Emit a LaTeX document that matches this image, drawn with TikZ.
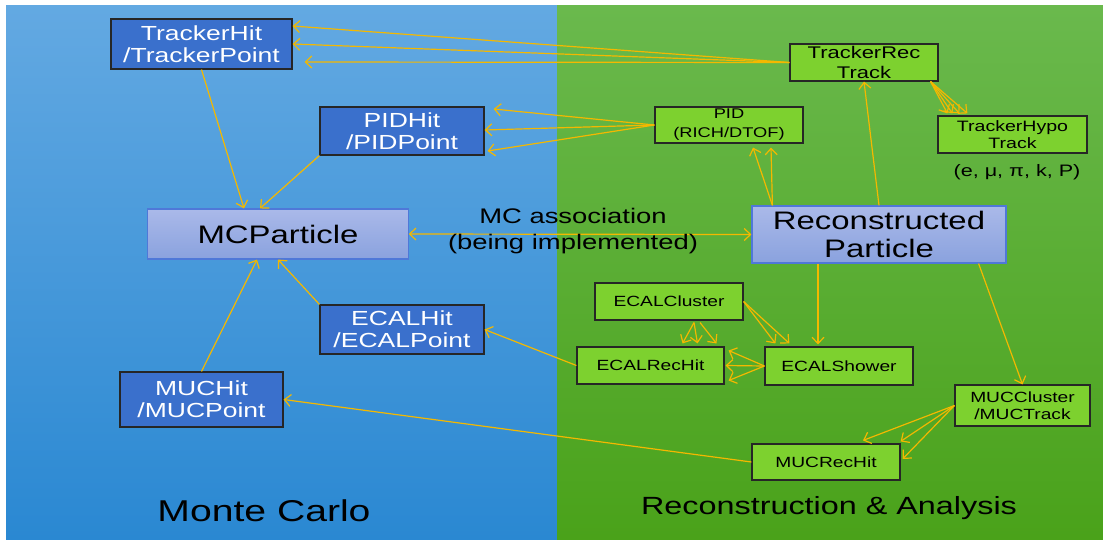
\documentclass[tikz,border=0pt]{standalone}
\usepackage{fontspec}
\setmainfont[FakeStretch=1.3]{Liberation Sans}
\usetikzlibrary{arrows.meta,calc}
\definecolor{mctop}{HTML}{63A9E2}
\definecolor{mcbot}{HTML}{2A88D2}
\definecolor{rectop}{HTML}{6AB94D}
\definecolor{recbot}{HTML}{4AA21A}
\definecolor{hitblue}{HTML}{3A70CC}
\definecolor{recgreen}{HTML}{7DD12F}
\definecolor{parttop}{HTML}{AAB9E9}
\definecolor{partbot}{HTML}{8AA2DE}
\definecolor{partedge}{HTML}{4F78D8}
\definecolor{link}{HTML}{F4B800}
\begin{document}
\begin{tikzpicture}[x=0.025cm, y=-0.025cm,
    hitbox/.style={draw=black!85, line width=0.8pt, fill=hitblue, text=white, align=center,
        inner sep=0pt, font=\fontsize{14.5}{15.6}\selectfont},
    recbox/.style={draw=black!85, line width=0.8pt, fill=recgreen, align=center,
        inner sep=0pt, font=\fontsize{10.5}{12}\selectfont},
    partbox/.style={draw=partedge, line width=0.8pt, top color=parttop, bottom color=partbot,
        align=center, inner sep=0pt, font=\fontsize{18}{20}\selectfont},
    link/.style={draw=link, line width=0.85pt, -{Straight Barb[length=4.5pt,width=8.5pt]}}]
    \useasboundingbox (0,0) rectangle (1103,539);
    \fill[white] (0,0) rectangle (1103,539);
    % two halves
    \shade[top color=mctop, bottom color=mcbot] (6,5) rectangle (557,539);
    \shade[top color=rectop, bottom color=recbot] (557,5) rectangle (1103,539);
    \node[font=\fontsize{21.4}{24}\selectfont] (mclabel) at (264,511) {Monte Carlo};
    \node[font=\fontsize{17.7}{20}\selectfont] (reclabel) at (829,508) {Reconstruction \& Analysis};
    % Monte Carlo side
    \node[hitbox, minimum width=4.525cm, minimum height=1.25cm] (thit) at (201.5,44) {TrackerHit\\/TrackerPoint};
    \node[hitbox, minimum width=4.1cm, minimum height=1.2cm] (pidhit) at (402,131) {PIDHit\\/PIDPoint};
    \node[partbox, minimum width=6.51cm, minimum height=1.25cm] (mcp) at (278,234) {MCParticle};
    \node[hitbox, minimum width=4.1cm, minimum height=1.225cm] (ecalhit) at (402,329.5) {ECALHit\\/ECALPoint};
    \node[hitbox, minimum width=4.075cm, minimum height=1.375cm] (muchit) at (201.5,399.5) {MUCHit\\/MUCPoint};
    % Reconstruction side
    \node[recbox, font=\fontsize{12}{14}\selectfont, minimum width=3.7cm, minimum height=0.925cm] (trec) at (864,62.5) {TrackerRec\\Track};
    \node[recbox, font=\fontsize{10}{13.5}\selectfont, minimum width=3.7cm, minimum height=0.9cm] (pid) at (729,125) {PID\\(RICH/DTOF)};
    \node[recbox, font=\fontsize{10.7}{12}\selectfont, minimum width=3.725cm, minimum height=0.925cm] (thypo) at (1012.5,134.5) {TrackerHypo\\Track};
    \node[font=\fontsize{11.8}{14}\selectfont] (hypos) at (1017,172) {(e, μ, π, k, P)};
    \node[partbox, minimum width=6.35cm, minimum height=1.425cm] (reco) at (879,234.5) {Reconstructed\\Particle};
    \node[recbox, minimum width=3.7cm, minimum height=0.925cm] (ecalcl) at (669,301.5) {ECALCluster};
    \node[recbox, minimum width=3.675cm, minimum height=0.925cm] (ecalrh) at (650.5,365.5) {ECALRecHit};
    \node[recbox, minimum width=3.7cm, minimum height=0.95cm] (ecalsh) at (839,366) {ECALShower};
    \node[recbox, font=\fontsize{10.5}{12}\selectfont, minimum width=3.375cm, minimum height=1.025cm] (muccl) at (1022.5,405.5) {MUCCluster\\/MUCTrack};
    \node[recbox, minimum width=3.7cm, minimum height=0.9cm] (mucrh) at (826,462) {MUCRecHit};
    % MC association
    \draw[link, {Straight Barb[length=4.5pt,width=8.5pt]}-{Straight Barb[length=4.5pt,width=8.5pt]}] (mcp.east) -- (reco.west);
    \node[align=center, font=\fontsize{15}{18.4}\selectfont] (assoc) at (573,231) {MC association\\(being implemented)};
    % tracker and PID links
    \draw[link] (trec.west) -- ($(thit.east)+(0,-18)$);
    \draw[link] (trec.west) -- (thit.east);
    \draw[link] (trec.west) -- ($(thit.east)+(12,18)$);
    \draw[link] (pid.west) -- ($(pidhit.east)+(9,-22)$);
    \draw[link] (pid.west) -- ($(pidhit.east)+(0,-1)$);
    \draw[link] (pid.west) -- ($(pidhit.east)+(3,20)$);
    \draw[link] (thit.south) -- ($(mcp.north)+(-34,0)$);
    \draw[link] (pidhit.south west) -- ($(mcp.north)+(-18,0)$);
    \draw[link] ($(reco.north west)+(21,0)$) -- ($(pid.south)+(24,4)$);
    \draw[link] ($(reco.north west)+(21,0)$) -- ($(pid.south)+(42,4)$);
    \draw[link] (reco.north) -- (trec.south);
    \foreach \dx in {10,15,22,30}
        \draw[link] ($(trec.south east)+(-8,0)$) -- ($(thypo.north west)+(\dx,-2)$);
    % calorimeter links
    \draw[link] ($(reco.south)+(-61,0)$) -- ($(ecalsh.north)+(-21,-2)$);
    \draw[link] (ecalcl.east) -- ($(ecalsh.north west)+(11,-3)$);
    \draw[link] (ecalcl.east) -- ($(ecalsh.north west)+(25,-3)$);
    \draw[link] ($(ecalcl.south)+(25,2)$) -- ($(ecalrh.north)+(32,-3)$);
    \draw[link] ($(ecalcl.south)+(25,2)$) -- ($(ecalrh.north)+(47,-3)$);
    \draw[link] ($(ecalcl.south)+(31,2)$) -- ($(ecalrh.north)+(66,-3)$);
    \draw[link] (ecalsh.west) -- ($(ecalrh.east)+(4,-15)$);
    \draw[link] (ecalsh.west) -- ($(ecalrh.east)+(1,0)$);
    \draw[link] (ecalsh.west) -- ($(ecalrh.east)+(4,15)$);
    \draw[link] (ecalrh.west) -- (ecalhit.east);
    \draw[link] (ecalhit.north west) -- (mcp.south);
    % muon links
    \draw[link] ($(reco.south east)+(-28,0)$) -- (muccl.north);
    \draw[link] (muccl.west) -- ($(mucrh.north)+(37,-3)$);
    \draw[link] (muccl.west) -- ($(mucrh.north east)+(0,-2)$);
    \draw[link] (muccl.west) -- ($(mucrh.east)+(2,-3)$);
    \draw[link] (mucrh.west) -- (muchit.east);
    \draw[link] (muchit.north) -- ($(mcp.south)+(-21,0)$);
\end{tikzpicture}
\end{document}
